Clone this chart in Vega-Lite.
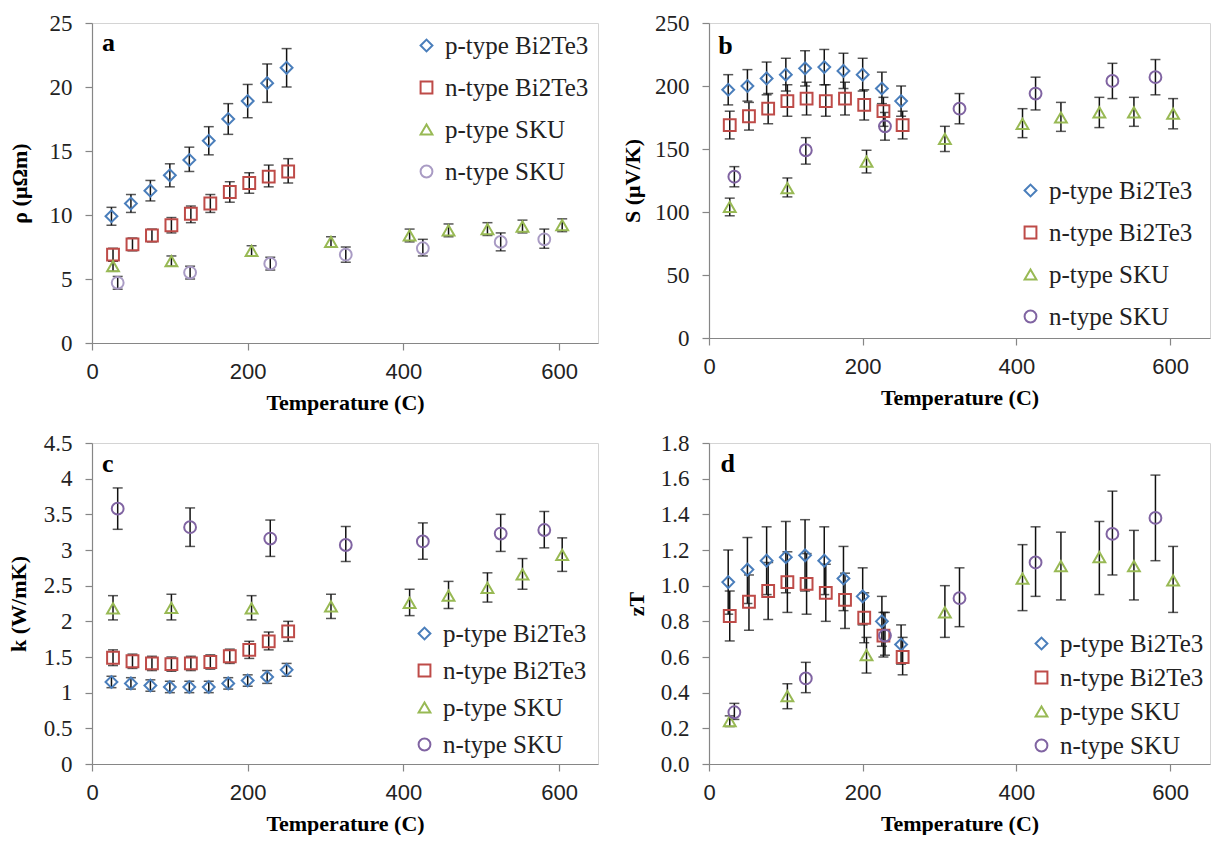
{
  "$schema": "https://vega.github.io/schema/vega-lite/v6.json",
  "background": "white",
  "padding": {"left": 6, "top": 11, "right": 0, "bottom": 0},
  "columns": 2,
  "spacing": {"row": 100, "column": 111},
  "bounds": "flush",
  "datasets": {
    "a": [
      {"s": "p-type Bi2Te3", "T": 25, "v": 9.9, "lo": 9.2, "hi": 10.6},
      {"s": "p-type Bi2Te3", "T": 50, "v": 10.9, "lo": 10.2, "hi": 11.6},
      {"s": "p-type Bi2Te3", "T": 75, "v": 11.9, "lo": 11.1, "hi": 12.7},
      {"s": "p-type Bi2Te3", "T": 100, "v": 13.1, "lo": 12.2, "hi": 14.0},
      {"s": "p-type Bi2Te3", "T": 125, "v": 14.3, "lo": 13.4, "hi": 15.3},
      {"s": "p-type Bi2Te3", "T": 150, "v": 15.8, "lo": 14.7, "hi": 16.9},
      {"s": "p-type Bi2Te3", "T": 175, "v": 17.5, "lo": 16.3, "hi": 18.7},
      {"s": "p-type Bi2Te3", "T": 200, "v": 18.9, "lo": 17.6, "hi": 20.2},
      {"s": "p-type Bi2Te3", "T": 225, "v": 20.3, "lo": 18.8, "hi": 21.8},
      {"s": "p-type Bi2Te3", "T": 250, "v": 21.5, "lo": 20.0, "hi": 23.0},
      {"s": "n-type Bi2Te3", "T": 27, "v": 6.9, "lo": 6.4, "hi": 7.4},
      {"s": "n-type Bi2Te3", "T": 52, "v": 7.7, "lo": 7.2, "hi": 8.2},
      {"s": "n-type Bi2Te3", "T": 77, "v": 8.4, "lo": 7.9, "hi": 8.9},
      {"s": "n-type Bi2Te3", "T": 102, "v": 9.2, "lo": 8.6, "hi": 9.8},
      {"s": "n-type Bi2Te3", "T": 127, "v": 10.1, "lo": 9.4, "hi": 10.7},
      {"s": "n-type Bi2Te3", "T": 152, "v": 10.9, "lo": 10.2, "hi": 11.6},
      {"s": "n-type Bi2Te3", "T": 177, "v": 11.8, "lo": 11.0, "hi": 12.6},
      {"s": "n-type Bi2Te3", "T": 202, "v": 12.5, "lo": 11.7, "hi": 13.3},
      {"s": "n-type Bi2Te3", "T": 227, "v": 13.0, "lo": 12.2, "hi": 13.9},
      {"s": "n-type Bi2Te3", "T": 252, "v": 13.4, "lo": 12.5, "hi": 14.4},
      {"s": "p-type SKU", "T": 27, "v": 6.0, "lo": 5.6, "hi": 6.4},
      {"s": "p-type SKU", "T": 102, "v": 6.4, "lo": 6.0, "hi": 6.8},
      {"s": "p-type SKU", "T": 205, "v": 7.2, "lo": 6.8, "hi": 7.6},
      {"s": "p-type SKU", "T": 307, "v": 7.9, "lo": 7.5, "hi": 8.3},
      {"s": "p-type SKU", "T": 408, "v": 8.4, "lo": 7.9, "hi": 8.9},
      {"s": "p-type SKU", "T": 458, "v": 8.8, "lo": 8.3, "hi": 9.3},
      {"s": "p-type SKU", "T": 508, "v": 8.9, "lo": 8.4, "hi": 9.4},
      {"s": "p-type SKU", "T": 553, "v": 9.1, "lo": 8.6, "hi": 9.6},
      {"s": "p-type SKU", "T": 604, "v": 9.2, "lo": 8.7, "hi": 9.7},
      {"s": "n-type SKU", "T": 33, "v": 4.7, "lo": 4.2, "hi": 5.2},
      {"s": "n-type SKU", "T": 126, "v": 5.5, "lo": 5.0, "hi": 6.0},
      {"s": "n-type SKU", "T": 229, "v": 6.2, "lo": 5.7, "hi": 6.7},
      {"s": "n-type SKU", "T": 326, "v": 6.9, "lo": 6.3, "hi": 7.5},
      {"s": "n-type SKU", "T": 425, "v": 7.4, "lo": 6.8, "hi": 8.1},
      {"s": "n-type SKU", "T": 525, "v": 7.9, "lo": 7.2, "hi": 8.6},
      {"s": "n-type SKU", "T": 581, "v": 8.1, "lo": 7.4, "hi": 8.9}
    ],
    "b": [
      {"s": "p-type Bi2Te3", "T": 25, "v": 197, "lo": 185, "hi": 209},
      {"s": "p-type Bi2Te3", "T": 50, "v": 200, "lo": 188, "hi": 213},
      {"s": "p-type Bi2Te3", "T": 75, "v": 206, "lo": 193, "hi": 219},
      {"s": "p-type Bi2Te3", "T": 100, "v": 209, "lo": 196, "hi": 222},
      {"s": "p-type Bi2Te3", "T": 125, "v": 214, "lo": 200, "hi": 228},
      {"s": "p-type Bi2Te3", "T": 150, "v": 215, "lo": 201, "hi": 229},
      {"s": "p-type Bi2Te3", "T": 175, "v": 212, "lo": 198, "hi": 226},
      {"s": "p-type Bi2Te3", "T": 200, "v": 209, "lo": 196, "hi": 222},
      {"s": "p-type Bi2Te3", "T": 225, "v": 198, "lo": 186, "hi": 211},
      {"s": "p-type Bi2Te3", "T": 250, "v": 188, "lo": 176, "hi": 200},
      {"s": "n-type Bi2Te3", "T": 27, "v": 169, "lo": 158, "hi": 180},
      {"s": "n-type Bi2Te3", "T": 52, "v": 176, "lo": 165, "hi": 187},
      {"s": "n-type Bi2Te3", "T": 77, "v": 182, "lo": 170, "hi": 194},
      {"s": "n-type Bi2Te3", "T": 102, "v": 188, "lo": 176, "hi": 201},
      {"s": "n-type Bi2Te3", "T": 127, "v": 190, "lo": 177, "hi": 203},
      {"s": "n-type Bi2Te3", "T": 152, "v": 188, "lo": 176, "hi": 201},
      {"s": "n-type Bi2Te3", "T": 177, "v": 190, "lo": 177, "hi": 203},
      {"s": "n-type Bi2Te3", "T": 202, "v": 185, "lo": 173, "hi": 197},
      {"s": "n-type Bi2Te3", "T": 227, "v": 180, "lo": 168, "hi": 191},
      {"s": "n-type Bi2Te3", "T": 252, "v": 169, "lo": 158, "hi": 180},
      {"s": "p-type SKU", "T": 27, "v": 104, "lo": 97, "hi": 111},
      {"s": "p-type SKU", "T": 102, "v": 119, "lo": 112, "hi": 127},
      {"s": "p-type SKU", "T": 205, "v": 140, "lo": 131, "hi": 149},
      {"s": "p-type SKU", "T": 307, "v": 158, "lo": 148, "hi": 168},
      {"s": "p-type SKU", "T": 408, "v": 170, "lo": 159, "hi": 182},
      {"s": "p-type SKU", "T": 458, "v": 175, "lo": 164, "hi": 187},
      {"s": "p-type SKU", "T": 508, "v": 179, "lo": 167, "hi": 191},
      {"s": "p-type SKU", "T": 553, "v": 179, "lo": 168, "hi": 191},
      {"s": "p-type SKU", "T": 604, "v": 178, "lo": 166, "hi": 190},
      {"s": "n-type SKU", "T": 33, "v": 128, "lo": 120, "hi": 136},
      {"s": "n-type SKU", "T": 126, "v": 149, "lo": 138, "hi": 159},
      {"s": "n-type SKU", "T": 229, "v": 168, "lo": 157, "hi": 179},
      {"s": "n-type SKU", "T": 326, "v": 182, "lo": 170, "hi": 194},
      {"s": "n-type SKU", "T": 425, "v": 194, "lo": 181, "hi": 207},
      {"s": "n-type SKU", "T": 525, "v": 204, "lo": 190, "hi": 218},
      {"s": "n-type SKU", "T": 581, "v": 207, "lo": 193, "hi": 221}
    ],
    "c": [
      {"s": "p-type Bi2Te3", "T": 25, "v": 1.15, "lo": 1.07, "hi": 1.23},
      {"s": "p-type Bi2Te3", "T": 50, "v": 1.13, "lo": 1.05, "hi": 1.21},
      {"s": "p-type Bi2Te3", "T": 75, "v": 1.10, "lo": 1.02, "hi": 1.18},
      {"s": "p-type Bi2Te3", "T": 100, "v": 1.08, "lo": 1.00, "hi": 1.16},
      {"s": "p-type Bi2Te3", "T": 125, "v": 1.08, "lo": 1.00, "hi": 1.16},
      {"s": "p-type Bi2Te3", "T": 150, "v": 1.08, "lo": 1.00, "hi": 1.16},
      {"s": "p-type Bi2Te3", "T": 175, "v": 1.13, "lo": 1.05, "hi": 1.21},
      {"s": "p-type Bi2Te3", "T": 200, "v": 1.17, "lo": 1.09, "hi": 1.25},
      {"s": "p-type Bi2Te3", "T": 225, "v": 1.22, "lo": 1.13, "hi": 1.31},
      {"s": "p-type Bi2Te3", "T": 250, "v": 1.32, "lo": 1.23, "hi": 1.41},
      {"s": "n-type Bi2Te3", "T": 27, "v": 1.49, "lo": 1.38, "hi": 1.60},
      {"s": "n-type Bi2Te3", "T": 52, "v": 1.44, "lo": 1.34, "hi": 1.54},
      {"s": "n-type Bi2Te3", "T": 77, "v": 1.41, "lo": 1.31, "hi": 1.51},
      {"s": "n-type Bi2Te3", "T": 102, "v": 1.40, "lo": 1.30, "hi": 1.50},
      {"s": "n-type Bi2Te3", "T": 127, "v": 1.41, "lo": 1.31, "hi": 1.51},
      {"s": "n-type Bi2Te3", "T": 152, "v": 1.43, "lo": 1.33, "hi": 1.53},
      {"s": "n-type Bi2Te3", "T": 177, "v": 1.51, "lo": 1.41, "hi": 1.61},
      {"s": "n-type Bi2Te3", "T": 202, "v": 1.60, "lo": 1.48, "hi": 1.72},
      {"s": "n-type Bi2Te3", "T": 227, "v": 1.72, "lo": 1.60, "hi": 1.85},
      {"s": "n-type Bi2Te3", "T": 252, "v": 1.86, "lo": 1.72, "hi": 2.00},
      {"s": "p-type SKU", "T": 27, "v": 2.18, "lo": 2.02, "hi": 2.36},
      {"s": "p-type SKU", "T": 102, "v": 2.19, "lo": 2.02, "hi": 2.38},
      {"s": "p-type SKU", "T": 205, "v": 2.18, "lo": 2.02, "hi": 2.36},
      {"s": "p-type SKU", "T": 307, "v": 2.21, "lo": 2.04, "hi": 2.38},
      {"s": "p-type SKU", "T": 408, "v": 2.26, "lo": 2.08, "hi": 2.45},
      {"s": "p-type SKU", "T": 458, "v": 2.36, "lo": 2.18, "hi": 2.56},
      {"s": "p-type SKU", "T": 508, "v": 2.47, "lo": 2.27, "hi": 2.68},
      {"s": "p-type SKU", "T": 553, "v": 2.66, "lo": 2.45, "hi": 2.88},
      {"s": "p-type SKU", "T": 604, "v": 2.93, "lo": 2.70, "hi": 3.17},
      {"s": "n-type SKU", "T": 33, "v": 3.58, "lo": 3.29, "hi": 3.87},
      {"s": "n-type SKU", "T": 126, "v": 3.32, "lo": 3.05, "hi": 3.59},
      {"s": "n-type SKU", "T": 229, "v": 3.16, "lo": 2.91, "hi": 3.42},
      {"s": "n-type SKU", "T": 326, "v": 3.07, "lo": 2.84, "hi": 3.33},
      {"s": "n-type SKU", "T": 425, "v": 3.12, "lo": 2.87, "hi": 3.38},
      {"s": "n-type SKU", "T": 525, "v": 3.23, "lo": 2.98, "hi": 3.50},
      {"s": "n-type SKU", "T": 581, "v": 3.28, "lo": 3.03, "hi": 3.54}
    ],
    "d": [
      {"s": "p-type Bi2Te3", "T": 25, "v": 1.02, "lo": 0.84, "hi": 1.20},
      {"s": "p-type Bi2Te3", "T": 50, "v": 1.09, "lo": 0.90, "hi": 1.27},
      {"s": "p-type Bi2Te3", "T": 75, "v": 1.14, "lo": 0.95, "hi": 1.33},
      {"s": "p-type Bi2Te3", "T": 100, "v": 1.16, "lo": 0.96, "hi": 1.36},
      {"s": "p-type Bi2Te3", "T": 125, "v": 1.17, "lo": 0.97, "hi": 1.37},
      {"s": "p-type Bi2Te3", "T": 150, "v": 1.14, "lo": 0.95, "hi": 1.33},
      {"s": "p-type Bi2Te3", "T": 175, "v": 1.04, "lo": 0.86, "hi": 1.22},
      {"s": "p-type Bi2Te3", "T": 200, "v": 0.94, "lo": 0.78, "hi": 1.10},
      {"s": "p-type Bi2Te3", "T": 225, "v": 0.80, "lo": 0.66, "hi": 0.94},
      {"s": "p-type Bi2Te3", "T": 250, "v": 0.67, "lo": 0.56, "hi": 0.78},
      {"s": "n-type Bi2Te3", "T": 27, "v": 0.83, "lo": 0.69, "hi": 0.97},
      {"s": "n-type Bi2Te3", "T": 52, "v": 0.91, "lo": 0.75, "hi": 1.06},
      {"s": "n-type Bi2Te3", "T": 77, "v": 0.97, "lo": 0.81, "hi": 1.13},
      {"s": "n-type Bi2Te3", "T": 102, "v": 1.02, "lo": 0.85, "hi": 1.19},
      {"s": "n-type Bi2Te3", "T": 127, "v": 1.01, "lo": 0.84, "hi": 1.18},
      {"s": "n-type Bi2Te3", "T": 152, "v": 0.96, "lo": 0.80, "hi": 1.12},
      {"s": "n-type Bi2Te3", "T": 177, "v": 0.92, "lo": 0.76, "hi": 1.07},
      {"s": "n-type Bi2Te3", "T": 202, "v": 0.82, "lo": 0.68, "hi": 0.96},
      {"s": "n-type Bi2Te3", "T": 227, "v": 0.72, "lo": 0.60, "hi": 0.85},
      {"s": "n-type Bi2Te3", "T": 252, "v": 0.60, "lo": 0.50, "hi": 0.71},
      {"s": "p-type SKU", "T": 27, "v": 0.24, "lo": 0.21, "hi": 0.27},
      {"s": "p-type SKU", "T": 102, "v": 0.38, "lo": 0.31, "hi": 0.45},
      {"s": "p-type SKU", "T": 205, "v": 0.61, "lo": 0.51, "hi": 0.71},
      {"s": "p-type SKU", "T": 307, "v": 0.85, "lo": 0.71, "hi": 1.00},
      {"s": "p-type SKU", "T": 408, "v": 1.04, "lo": 0.86, "hi": 1.23},
      {"s": "p-type SKU", "T": 458, "v": 1.11, "lo": 0.92, "hi": 1.30},
      {"s": "p-type SKU", "T": 508, "v": 1.16, "lo": 0.95, "hi": 1.36},
      {"s": "p-type SKU", "T": 553, "v": 1.11, "lo": 0.92, "hi": 1.31},
      {"s": "p-type SKU", "T": 604, "v": 1.03, "lo": 0.85, "hi": 1.22},
      {"s": "n-type SKU", "T": 33, "v": 0.29, "lo": 0.25, "hi": 0.34},
      {"s": "n-type SKU", "T": 126, "v": 0.48, "lo": 0.40, "hi": 0.57},
      {"s": "n-type SKU", "T": 229, "v": 0.72, "lo": 0.61, "hi": 0.85},
      {"s": "n-type SKU", "T": 326, "v": 0.93, "lo": 0.77, "hi": 1.10},
      {"s": "n-type SKU", "T": 425, "v": 1.13, "lo": 0.94, "hi": 1.33},
      {"s": "n-type SKU", "T": 525, "v": 1.29, "lo": 1.06, "hi": 1.53},
      {"s": "n-type SKU", "T": 581, "v": 1.38, "lo": 1.14, "hi": 1.62}
    ]
  },
  "concat": [
    {
      "width": 506, "height": 320,
      "data": {"name": "a"},
      "layer": [
        {"mark": {"type": "rule", "color": "#111", "strokeWidth": 1.5},
         "encoding": {
           "x": {"field": "T", "type": "quantitative", "scale": {"domain": [0, 650], "nice": false}, "axis": {"values": [0, 200, 400, 600], "title": "Temperature  (C)"}},
           "y": {"field": "lo", "type": "quantitative", "scale": {"domain": [0, 25], "nice": false}, "axis": {"values": [0, 5, 10, 15, 20, 25], "title": "ρ (μΩm)", "titlePadding": 18}},
           "y2": {"field": "hi"}}},
        {"mark": {"type": "tick", "orient": "horizontal", "color": "#111", "size": 10, "thickness": 1.5},
         "encoding": {
           "x": {"field": "T", "type": "quantitative", "axis": {"values": [0, 200, 400, 600], "title": "Temperature  (C)"}},
           "y": {"field": "lo", "type": "quantitative", "axis": {"values": [0, 5, 10, 15, 20, 25], "title": "ρ (μΩm)", "titlePadding": 18}}}},
        {"mark": {"type": "tick", "orient": "horizontal", "color": "#111", "size": 10, "thickness": 1.5},
         "encoding": {
           "x": {"field": "T", "type": "quantitative", "axis": {"values": [0, 200, 400, 600], "title": "Temperature  (C)"}},
           "y": {"field": "hi", "type": "quantitative", "axis": {"values": [0, 5, 10, 15, 20, 25], "title": "ρ (μΩm)", "titlePadding": 18}}}},
        {"mark": {"type": "point", "filled": false, "size": 140, "strokeWidth": 2, "opacity": 1},
         "encoding": {
           "x": {"field": "T", "type": "quantitative", "axis": {"values": [0, 200, 400, 600], "title": "Temperature  (C)"}},
           "y": {"field": "v", "type": "quantitative", "axis": {"values": [0, 5, 10, 15, 20, 25], "title": "ρ (μΩm)", "titlePadding": 18}},
           "color": {"field": "s", "type": "nominal", "scale": {"domain": ["p-type Bi2Te3", "n-type Bi2Te3", "p-type SKU", "n-type SKU"], "range": ["#4A7EBB", "#BE4B48", "#98B954", "#A99BC4"]},
             "legend": {"orient": "none", "legendX": 322, "legendY": 10, "rowPadding": 16, "title": null}},
           "shape": {"field": "s", "type": "nominal", "scale": {"domain": ["p-type Bi2Te3", "n-type Bi2Te3", "p-type SKU", "n-type SKU"], "range": ["diamond", "square", "triangle-up", "circle"]},
             "legend": {"orient": "none", "legendX": 322, "legendY": 10, "rowPadding": 16, "title": null}}}},
        {"data": {"values": [{"lab": "a", "T": 13, "v": 23.4}]},
         "mark": {"type": "text", "align": "left", "baseline": "middle", "font": "Liberation Serif", "fontWeight": "bold", "fontSize": 26, "color": "#000"},
         "encoding": {
           "x": {"field": "T", "type": "quantitative", "axis": {"values": [0, 200, 400, 600], "title": "Temperature  (C)"}},
           "y": {"field": "v", "type": "quantitative", "axis": {"values": [0, 5, 10, 15, 20, 25], "title": "ρ (μΩm)", "titlePadding": 18}},
           "text": {"field": "lab"}}}
      ]
    },
    {
      "width": 501, "height": 315,
      "data": {"name": "b"},
      "layer": [
        {"mark": {"type": "rule", "color": "#111", "strokeWidth": 1.5},
         "encoding": {
           "x": {"field": "T", "type": "quantitative", "scale": {"domain": [0, 652], "nice": false}, "axis": {"values": [0, 200, 400, 600], "title": "Temperature  (C)"}},
           "y": {"field": "lo", "type": "quantitative", "scale": {"domain": [0, 250], "nice": false}, "axis": {"values": [0, 50, 100, 150, 200, 250], "title": "S (μV/K)", "titlePadding": 10}},
           "y2": {"field": "hi"}}},
        {"mark": {"type": "tick", "orient": "horizontal", "color": "#111", "size": 10, "thickness": 1.5},
         "encoding": {
           "x": {"field": "T", "type": "quantitative", "axis": {"values": [0, 200, 400, 600], "title": "Temperature  (C)"}},
           "y": {"field": "lo", "type": "quantitative", "axis": {"values": [0, 50, 100, 150, 200, 250], "title": "S (μV/K)", "titlePadding": 10}}}},
        {"mark": {"type": "tick", "orient": "horizontal", "color": "#111", "size": 10, "thickness": 1.5},
         "encoding": {
           "x": {"field": "T", "type": "quantitative", "axis": {"values": [0, 200, 400, 600], "title": "Temperature  (C)"}},
           "y": {"field": "hi", "type": "quantitative", "axis": {"values": [0, 50, 100, 150, 200, 250], "title": "S (μV/K)", "titlePadding": 10}}}},
        {"mark": {"type": "point", "filled": false, "size": 140, "strokeWidth": 2, "opacity": 1},
         "encoding": {
           "x": {"field": "T", "type": "quantitative", "axis": {"values": [0, 200, 400, 600], "title": "Temperature  (C)"}},
           "y": {"field": "v", "type": "quantitative", "axis": {"values": [0, 50, 100, 150, 200, 250], "title": "S (μV/K)", "titlePadding": 10}},
           "color": {"field": "s", "type": "nominal", "scale": {"domain": ["p-type Bi2Te3", "n-type Bi2Te3", "p-type SKU", "n-type SKU"], "range": ["#4A7EBB", "#BE4B48", "#98B954", "#8064A2"]},
             "legend": {"orient": "none", "legendX": 309, "legendY": 155, "rowPadding": 16, "title": null}},
           "shape": {"field": "s", "type": "nominal", "scale": {"domain": ["p-type Bi2Te3", "n-type Bi2Te3", "p-type SKU", "n-type SKU"], "range": ["diamond", "square", "triangle-up", "circle"]},
             "legend": {"orient": "none", "legendX": 309, "legendY": 155, "rowPadding": 16, "title": null}}}},
        {"data": {"values": [{"lab": "b", "T": 12, "v": 232}]},
         "mark": {"type": "text", "align": "left", "baseline": "middle", "font": "Liberation Serif", "fontWeight": "bold", "fontSize": 26, "color": "#000"},
         "encoding": {
           "x": {"field": "T", "type": "quantitative", "axis": {"values": [0, 200, 400, 600], "title": "Temperature  (C)"}},
           "y": {"field": "v", "type": "quantitative", "axis": {"values": [0, 50, 100, 150, 200, 250], "title": "S (μV/K)", "titlePadding": 10}},
           "text": {"field": "lab"}}}
      ]
    },
    {
      "width": 506, "height": 321,
      "data": {"name": "c"},
      "layer": [
        {"mark": {"type": "rule", "color": "#111", "strokeWidth": 1.5},
         "encoding": {
           "x": {"field": "T", "type": "quantitative", "scale": {"domain": [0, 650], "nice": false}, "axis": {"values": [0, 200, 400, 600], "title": "Temperature  (C)"}},
           "y": {"field": "lo", "type": "quantitative", "scale": {"domain": [0, 4.5], "nice": false}, "axis": {"values": [0, 0.5, 1, 1.5, 2, 2.5, 3, 3.5, 4, 4.5], "format": "~g", "title": "k (W/mK)", "titlePadding": 13}},
           "y2": {"field": "hi"}}},
        {"mark": {"type": "tick", "orient": "horizontal", "color": "#111", "size": 10, "thickness": 1.5},
         "encoding": {
           "x": {"field": "T", "type": "quantitative", "axis": {"values": [0, 200, 400, 600], "title": "Temperature  (C)"}},
           "y": {"field": "lo", "type": "quantitative", "axis": {"values": [0, 0.5, 1, 1.5, 2, 2.5, 3, 3.5, 4, 4.5], "format": "~g", "title": "k (W/mK)", "titlePadding": 13}}}},
        {"mark": {"type": "tick", "orient": "horizontal", "color": "#111", "size": 10, "thickness": 1.5},
         "encoding": {
           "x": {"field": "T", "type": "quantitative", "axis": {"values": [0, 200, 400, 600], "title": "Temperature  (C)"}},
           "y": {"field": "hi", "type": "quantitative", "axis": {"values": [0, 0.5, 1, 1.5, 2, 2.5, 3, 3.5, 4, 4.5], "format": "~g", "title": "k (W/mK)", "titlePadding": 13}}}},
        {"mark": {"type": "point", "filled": false, "size": 140, "strokeWidth": 2, "opacity": 1},
         "encoding": {
           "x": {"field": "T", "type": "quantitative", "axis": {"values": [0, 200, 400, 600], "title": "Temperature  (C)"}},
           "y": {"field": "v", "type": "quantitative", "axis": {"values": [0, 0.5, 1, 1.5, 2, 2.5, 3, 3.5, 4, 4.5], "format": "~g", "title": "k (W/mK)", "titlePadding": 13}},
           "color": {"field": "s", "type": "nominal", "scale": {"domain": ["p-type Bi2Te3", "n-type Bi2Te3", "p-type SKU", "n-type SKU"], "range": ["#4A7EBB", "#BE4B48", "#98B954", "#8064A2"]},
             "legend": {"orient": "none", "legendX": 320, "legendY": 178, "rowPadding": 11, "title": null}},
           "shape": {"field": "s", "type": "nominal", "scale": {"domain": ["p-type Bi2Te3", "n-type Bi2Te3", "p-type SKU", "n-type SKU"], "range": ["diamond", "square", "triangle-up", "circle"]},
             "legend": {"orient": "none", "legendX": 320, "legendY": 178, "rowPadding": 11, "title": null}}}},
        {"data": {"values": [{"lab": "c", "T": 13, "v": 4.2}]},
         "mark": {"type": "text", "align": "left", "baseline": "middle", "font": "Liberation Serif", "fontWeight": "bold", "fontSize": 26, "color": "#000"},
         "encoding": {
           "x": {"field": "T", "type": "quantitative", "axis": {"values": [0, 200, 400, 600], "title": "Temperature  (C)"}},
           "y": {"field": "v", "type": "quantitative", "axis": {"values": [0, 0.5, 1, 1.5, 2, 2.5, 3, 3.5, 4, 4.5], "format": "~g", "title": "k (W/mK)", "titlePadding": 13}},
           "text": {"field": "lab"}}}
      ]
    },
    {
      "width": 501, "height": 321,
      "data": {"name": "d"},
      "layer": [
        {"mark": {"type": "rule", "color": "#111", "strokeWidth": 1.5},
         "encoding": {
           "x": {"field": "T", "type": "quantitative", "scale": {"domain": [0, 652], "nice": false}, "axis": {"values": [0, 200, 400, 600], "title": "Temperature  (C)"}},
           "y": {"field": "lo", "type": "quantitative", "scale": {"domain": [0, 1.8], "nice": false}, "axis": {"values": [0, 0.2, 0.4, 0.6, 0.8, 1.0, 1.2, 1.4, 1.6, 1.8], "format": ".1f", "title": "zT", "titlePadding": 12}},
           "y2": {"field": "hi"}}},
        {"mark": {"type": "tick", "orient": "horizontal", "color": "#111", "size": 10, "thickness": 1.5},
         "encoding": {
           "x": {"field": "T", "type": "quantitative", "axis": {"values": [0, 200, 400, 600], "title": "Temperature  (C)"}},
           "y": {"field": "lo", "type": "quantitative", "axis": {"values": [0, 0.2, 0.4, 0.6, 0.8, 1.0, 1.2, 1.4, 1.6, 1.8], "format": ".1f", "title": "zT", "titlePadding": 12}}}},
        {"mark": {"type": "tick", "orient": "horizontal", "color": "#111", "size": 10, "thickness": 1.5},
         "encoding": {
           "x": {"field": "T", "type": "quantitative", "axis": {"values": [0, 200, 400, 600], "title": "Temperature  (C)"}},
           "y": {"field": "hi", "type": "quantitative", "axis": {"values": [0, 0.2, 0.4, 0.6, 0.8, 1.0, 1.2, 1.4, 1.6, 1.8], "format": ".1f", "title": "zT", "titlePadding": 12}}}},
        {"mark": {"type": "point", "filled": false, "size": 140, "strokeWidth": 2, "opacity": 1},
         "encoding": {
           "x": {"field": "T", "type": "quantitative", "axis": {"values": [0, 200, 400, 600], "title": "Temperature  (C)"}},
           "y": {"field": "v", "type": "quantitative", "axis": {"values": [0, 0.2, 0.4, 0.6, 0.8, 1.0, 1.2, 1.4, 1.6, 1.8], "format": ".1f", "title": "zT", "titlePadding": 12}},
           "color": {"field": "s", "type": "nominal", "scale": {"domain": ["p-type Bi2Te3", "n-type Bi2Te3", "p-type SKU", "n-type SKU"], "range": ["#4A7EBB", "#BE4B48", "#98B954", "#8064A2"]},
             "legend": {"orient": "none", "legendX": 320, "legendY": 188, "rowPadding": 8, "title": null}},
           "shape": {"field": "s", "type": "nominal", "scale": {"domain": ["p-type Bi2Te3", "n-type Bi2Te3", "p-type SKU", "n-type SKU"], "range": ["diamond", "square", "triangle-up", "circle"]},
             "legend": {"orient": "none", "legendX": 320, "legendY": 188, "rowPadding": 8, "title": null}}}},
        {"data": {"values": [{"lab": "d", "T": 15, "v": 1.68}]},
         "mark": {"type": "text", "align": "left", "baseline": "middle", "font": "Liberation Serif", "fontWeight": "bold", "fontSize": 26, "color": "#000"},
         "encoding": {
           "x": {"field": "T", "type": "quantitative", "axis": {"values": [0, 200, 400, 600], "title": "Temperature  (C)"}},
           "y": {"field": "v", "type": "quantitative", "axis": {"values": [0, 0.2, 0.4, 0.6, 0.8, 1.0, 1.2, 1.4, 1.6, 1.8], "format": ".1f", "title": "zT", "titlePadding": 12}},
           "text": {"field": "lab"}}}
      ]
    }
  ],
  "resolve": {
    "scale": {"x": "independent", "y": "independent", "color": "independent", "shape": "independent"},
    "axis": {"x": "independent", "y": "independent"},
    "legend": {"color": "independent", "shape": "independent"}
  },
  "config": {
    "view": {"stroke": "#d4d4d4", "strokeWidth": 1},
    "axis": {
      "grid": false,
      "domainColor": "#868686", "domainWidth": 1.2,
      "tickColor": "#868686", "tickWidth": 1.2, "tickSize": 7,
      "labelFont": "Liberation Serif", "labelFontSize": 23, "labelColor": "#222",
      "titleFont": "Liberation Serif", "titleFontSize": 22, "titleFontWeight": "bold", "titleColor": "#000",
      "labelOverlap": false, "labelFlush": false
    },
    "axisX": {"labelPadding": 11, "titlePadding": 10, "labelFont": "Liberation Sans", "labelFontSize": 22},
    "axisY": {"labelPadding": 13},
    "legend": {
      "labelFont": "Liberation Serif", "labelFontSize": 25, "labelColor": "#222",
      "symbolSize": 140, "symbolStrokeWidth": 2, "labelOffset": 6, "padding": 0, "labelLimit": 300
    }
  }
}
